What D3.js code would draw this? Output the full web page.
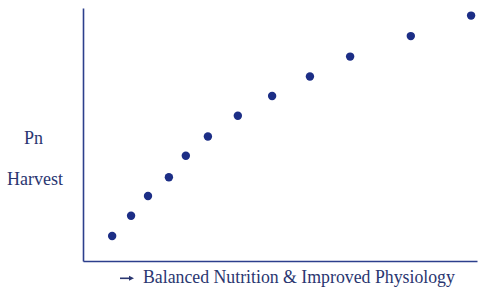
<!DOCTYPE html>
<html lang="en">
<head>
<meta charset="utf-8">
<script src="https://d3js.org/d3.v7.min.js"></script>
<style>
  body { margin: 0; background: #fff; }
  text { font-family: 'Liberation Serif', serif; fill: #2a3670; }
</style>
</head>
<body>
<div id="chart"></div>
<script>
// readings (arbitrary 0-100 units, no ticks shown)
var nutrition = [7.4, 12.2, 16.5, 21.8, 26.1, 31.7, 39.3, 48.0, 57.6, 67.8, 83.2, 98.5];
var harvest   = [9.9, 17.9, 25.7, 33.1, 41.6, 49.2, 57.4, 65.2, 72.9, 80.8, 88.9, 97.0];
var yLabels = ["Pn", "Harvest"];
var xLabel = "Balanced Nutrition & Improved Physiology";

var width = 482, height = 289;
var margin = {left: 83, top: 8, right: 5, bottom: 28};
var navy = "#1c2e86";

var svg = d3.select("#chart").append("svg")
  .attr("width", width)
  .attr("height", height);

var x = d3.scaleLinear().domain([0, 100]).range([margin.left, width - margin.right]);
var y = d3.scaleLinear().domain([0, 100]).range([height - margin.bottom, margin.top]);

//axes, bare lines only
svg.append("g")
  .attr("transform", "translate(0," + y(0) + ")")
  .call(d3.axisBottom(x).tickValues([]).tickSizeOuter(0))
  .call(function(g) { g.select(".domain").attr("stroke", "#2c3f8c").attr("stroke-width", 1.6); });

svg.append("g")
  .attr("transform", "translate(" + x(0) + ",0)")
  .call(d3.axisLeft(y).tickValues([]).tickSizeOuter(0))
  .call(function(g) { g.select(".domain").attr("stroke", "#2c3f8c").attr("stroke-width", 1.6); });

//dots
svg.selectAll("circle.dot")
  .data(nutrition)
  .enter().append("circle")
  .attr("class", "dot")
  .attr("cx", function(d) { return x(d); })
  .attr("cy", function(d, i) { return y(harvest[i]); })
  .attr("r", 4.2)
  .style("fill", navy);

//y labels
svg.selectAll("text.ylab")
  .data(yLabels)
  .enter().append("text")
  .attr("class", "ylab")
  .attr("x", function(d, i) { return i == 0 ? 24 : 7; })
  .attr("y", function(d, i) { return i == 0 ? 144 : 184.5; })
  .style("font-size", "18px")
  .text(function(d) { return d; });

//x label with arrow
svg.append("line")
  .attr("x1", 120).attr("x2", 131)
  .attr("y1", 278.3).attr("y2", 278.3)
  .attr("stroke", "#2a3670").attr("stroke-width", 1.6);
svg.append("path")
  .attr("d", "M129,275.8 L134,278.3 L129,280.8 Z")
  .style("fill", "#2a3670");

var xl = svg.append("text")
  .attr("x", 143)
  .attr("y", 283.3)
  .style("font-size", "17px")
  .text(xLabel);
//fit to the width seen in the picture
var w = xl.node().getComputedTextLength();
xl.style("font-size", (17 * 312 / w).toFixed(2) + "px");
</script>
</body>
</html>
